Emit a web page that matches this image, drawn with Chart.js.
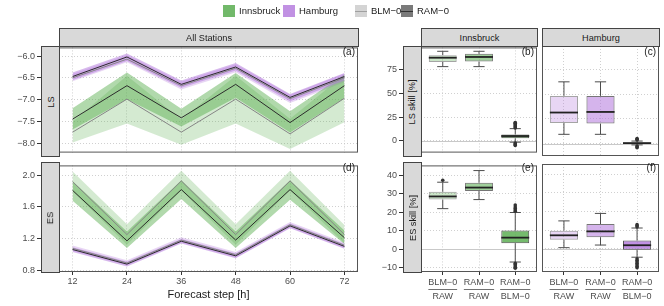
<!DOCTYPE html>
<html>
<head>
<meta charset="utf-8">
<script src="https://cdn.jsdelivr.net/npm/chart.js@4.4.0/dist/chart.umd.min.js"></script>
<style>
body { margin: 0; background: #fff; font-family: "Liberation Sans", Arial, sans-serif; }
#wrap { position: relative; width: 664px; height: 306px; overflow: hidden; background: #fff; }
canvas { position: absolute; z-index: 1; }
.strip { position: absolute; background: #d9d9d9; border: 1px solid #444; box-sizing: border-box; font-size: 9.2px; color: #1a1a1a; display: flex; align-items: center; justify-content: center; z-index: 2; }
.strip span { white-space: nowrap; }
.vstrip span { transform: rotate(-90deg); }
.tag { position: absolute; font-size: 10px; color: #1a1a1a; z-index: 2; text-align: right; width: 30px; }
.key { position: absolute; width: 12px; height: 12px; top: 5px; z-index: 2; }
.key i { position: absolute; left: 0; right: 0; top: 5.5px; height: 1px; }
.ltxt { position: absolute; top: 5px; line-height: 12px; font-size: 9.5px; color: #1a1a1a; z-index: 2; white-space: nowrap; }
.title { position: absolute; left: 59px; width: 299px; top: 288px; text-align: center; font-size: 11px; color: #1a1a1a; z-index: 2; }
</style>
</head>
<body>
<div id="wrap">
  <!-- legend -->
  <div class="key" style="left:223px;background:rgb(114,185,106)"></div>
  <div class="ltxt" style="left:239px">Innsbruck</div>
  <div class="key" style="left:283px;background:rgb(193,145,227)"></div>
  <div class="ltxt" style="left:299px">Hamburg</div>
  <div class="key" style="left:355px;background:#d4d4d4"><i style="background:#a0a0a0"></i></div>
  <div class="ltxt" style="left:371px">BLM−0</div>
  <div class="key" style="left:401px;background:#7a7a7a"><i style="background:#333"></i></div>
  <div class="ltxt" style="left:417px">RAM−0</div>

  <!-- strips -->
  <div class="strip" style="left:59px;top:28px;width:300px;height:19px"><span>All Stations</span></div>
  <div class="strip vstrip" style="left:41px;top:46px;width:19px;height:111px"><span>LS</span></div>
  <div class="strip vstrip" style="left:41px;top:162px;width:19px;height:111px"><span>ES</span></div>
  <div class="strip" style="left:421px;top:28px;width:117px;height:19px"><span>Innsbruck</span></div>
  <div class="strip" style="left:542px;top:28px;width:118px;height:19px"><span>Hamburg</span></div>
  <div class="strip vstrip" style="left:403px;top:46px;width:19px;height:111px"><span>LS skill [%]</span></div>
  <div class="strip vstrip" style="left:403px;top:162px;width:19px;height:111px"><span>ES skill [%]</span></div>

  <!-- panel tags -->
  <div class="tag" style="left:325px;top:46px">(a)</div>
  <div class="tag" style="left:325px;top:162px">(d)</div>
  <div class="tag" style="left:504px;top:46px">(b)</div>
  <div class="tag" style="left:504px;top:162px">(e)</div>
  <div class="tag" style="left:626px;top:46px">(c)</div>
  <div class="tag" style="left:626px;top:162px">(f)</div>

  <div class="title">Forecast step [h]</div>
</div>
<script>
// forecast steps (h)
const steps = [12, 24, 36, 48, 60, 72];

// LS, Innsbruck
const lsInnRam   = [-7.45, -6.68, -7.42, -6.65, -7.53, -6.68];
const lsInnRamLo = [-7.69, -6.99, -7.62, -6.96, -7.76, -6.97];
const lsInnRamHi = [-7.20, -6.38, -7.21, -6.39, -7.27, -6.42];
const lsInnBlm   = [-7.75, -6.99, -7.75, -6.99, -7.79, -6.97];
const lsInnBlmLo = [-7.99, -7.55, -8.04, -7.55, -8.14, -7.52];
const lsInnBlmHi = [-7.51, -6.45, -7.46, -6.45, -7.44, -6.43];
// LS, Hamburg
const lsHamRam   = [-6.47, -6.02, -6.65, -6.25, -6.95, -6.47];
const lsHamRamLo = [-6.55, -6.11, -6.73, -6.33, -7.04, -6.56];
const lsHamRamHi = [-6.38, -5.94, -6.56, -6.16, -6.87, -6.39];
const lsHamBlm   = [-6.50, -6.07, -6.68, -6.28, -6.98, -6.50];
const lsHamBlmLo = [-6.58, -6.14, -6.77, -6.37, -7.08, -6.60];
const lsHamBlmHi = [-6.41, -5.98, -6.59, -6.19, -6.89, -6.40];

// ES, Innsbruck
const esInnRam   = [1.81, 1.17, 1.82, 1.18, 1.82, 1.21];
const esInnRamLo = [1.68, 1.08, 1.70, 1.08, 1.69, 1.13];
const esInnRamHi = [1.93, 1.29, 1.94, 1.29, 1.94, 1.30];
const esInnBlm   = [1.92, 1.25, 1.93, 1.25, 1.93, 1.25];
const esInnBlmLo = [1.80, 1.12, 1.81, 1.12, 1.81, 1.14];
const esInnBlmHi = [2.05, 1.38, 2.06, 1.38, 2.06, 1.37];
// ES, Hamburg
const esHamRam   = [1.06, 0.875, 1.165, 0.98, 1.36, 1.10];
const esHamRamLo = [1.03, 0.845, 1.135, 0.95, 1.33, 1.07];
const esHamRamHi = [1.09, 0.905, 1.195, 1.01, 1.39, 1.13];
const esHamBlm   = [1.075, 0.89, 1.18, 0.995, 1.375, 1.115];
const esHamBlmLo = [1.04, 0.86, 1.145, 0.96, 1.34, 1.08];
const esHamBlmHi = [1.11, 0.925, 1.215, 1.03, 1.41, 1.15];

// skill boxplots: categories are "model / reference"
const boxCats = [['BLM−0', 'RAW'], ['RAM−0', 'RAW'], ['RAM−0', 'BLM−0']];

const lsInnQ1 = [83.3, 83.7, 2.6];
const lsInnMed = [87.7, 88.5, 5.0];
const lsInnQ3 = [90.4, 91.8, 6.7];
const lsInnLo = [78.3, 78.3, -1.5];
const lsInnHi = [94.5, 94.5, 12.8];
const lsInnOut = [[], [], [13.6, 14.6, 15.6, 16.6, 17.6, 18.6, 19.3, -2.4, -3.3, -4.2, -5.0]];

const lsHamQ1 = [20.9, 20.2, 0.0];
const lsHamMed = [31.4, 32.0, 0.5];
const lsHamQ3 = [48.2, 48.2, 1.2];
const lsHamLo = [9.4, 9.4, -1.3];
const lsHamHi = [62.4, 62.4, 2.6];
const lsHamOut = [[], [], [3.6, 4.4, 5.1, -2.4, -3.3, -4.1]];

const esInnQ1 = [26.9, 31.6, 3.3];
const esInnMed = [28.6, 33.4, 6.3];
const esInnQ3 = [31.1, 36.0, 10.1];
const esInnLo = [22.0, 26.9, -6.9];
const esInnHi = [36.3, 42.6, 19.9];
const esInnOut = [[37.4], [], [20.6, 21.3, 22.1, 22.9, 24.0, -7.6, -8.3, -9.0, -9.7, -10.3]];

const esHamQ1 = [4.9, 6.3, -0.4];
const esHamMed = [7.3, 9.4, 2.0];
const esHamQ3 = [9.8, 13.3, 4.5];
const esHamLo = [0.7, 2.1, -4.4];
const esHamHi = [15.0, 19.0, 11.2];
const esHamOut = [[], [], [11.8, 12.4, 13.0, -5.2, -6.0, -6.8, -7.6, -8.4, -9.2, -10.0]];

// axis ticks
const lsTicks = [-8, -7.5, -7, -6.5, -6];
const esTicks = [0.8, 1.2, 1.6, 2.0];
const lsSkillTicks = [0, 25, 50, 75];
const esSkillTicks = [-10, 0, 10, 20, 30, 40];

const GREEN = [82, 170, 72];
const PURPLE = [178, 118, 220];
const rgba = (c, a) => `rgba(${c[0]},${c[1]},${c[2]},${a})`;
const minus = s => String(s).replace('-', '\u2212');

Chart.defaults.font.family = "'Liberation Sans', Arial, sans-serif";
Chart.defaults.font.size = 9;
Chart.defaults.color = '#4d4d4d';
Chart.defaults.animation = false;
Chart.defaults.plugins.legend.display = false;
Chart.defaults.plugins.tooltip.enabled = false;

function mkCanvas(left, top, w, h) {
    const c = document.createElement('canvas');
    c.width = w; c.height = h;
    c.style.left = left + 'px'; c.style.top = top + 'px';
    c.style.width = w + 'px'; c.style.height = h + 'px';
    document.getElementById('wrap').appendChild(c);
    return c.getContext('2d');
}

// grey frame round the plot area
const panelBorder = {
    id: 'panelBorder',
    afterDraw(chart) {
        const { ctx, chartArea: a } = chart;
        ctx.save();
        ctx.strokeStyle = '#555';
        ctx.lineWidth = 1;
        ctx.strokeRect(a.left + 0.5, a.top + 0.5, a.right - a.left - 1, a.bottom - a.top - 1);
        ctx.restore();
    }
};

function yAxis(min, max, ticks, fmt, showLabels, width) {
    return {
        type: 'linear', min, max,
        afterBuildTicks: s => { s.ticks = ticks.map(v => ({ value: v })); },
        afterFit: s => { s.width = width; },
        ticks: { display: showLabels, padding: 2, callback: fmt },
        grid: { color: '#c4c4c4', lineWidth: 0.8, drawTicks: showLabels, tickLength: 22, tickColor: '#333', tickWidth: 1 },
        border: { display: false, dash: [1, 2] }
    };
}

function lineChart(ctx, yMin, yMax, yTicks, yFmt, showX, xH, padTop, series) {
    const pts = arr => steps.map((x, i) => ({ x, y: arr[i] }));
    const ds = [];
    series.forEach(s => {
        ds.push({ data: pts(s.ram), borderColor: '#2b2b2b', borderWidth: 1 });
        ds.push({ data: pts(s.blm), borderColor: '#858585', borderWidth: 1 });
    });
    const band = (hi, lo, col) => {
        const i = ds.length;
        ds.push({ data: pts(hi), fill: i + 1, backgroundColor: col, borderColor: 'rgba(0,0,0,0)', borderWidth: 0 });
        ds.push({ data: pts(lo), fill: false, borderColor: 'rgba(0,0,0,0)', borderWidth: 0 });
    };
    series.forEach(s => band(s.ramHi, s.ramLo, rgba(s.color, s.ramA)));
    series.forEach(s => band(s.blmHi, s.blmLo, rgba(s.color, s.blmA)));

    return new Chart(ctx, {
        type: 'line',
        data: { datasets: ds },
        options: {
            responsive: false,
            devicePixelRatio: 1,
            layout: { padding: { top: padTop, right: 4, left: 0, bottom: 0 } },
            elements: { point: { radius: 0 }, line: { tension: 0 } },
            scales: {
                x: {
                    type: 'linear', min: 9, max: 75,
                    afterBuildTicks: s => { s.ticks = steps.map(v => ({ value: v })); },
                    afterFit: s => { s.height = xH; },
                    ticks: { display: showX, padding: 1, maxRotation: 0, autoSkip: false },
                    grid: { color: '#c4c4c4', lineWidth: 0.8, drawTicks: showX, tickLength: 3, tickColor: '#333', tickWidth: 1 },
                    border: { display: false, dash: [1, 2] }
                },
                y: yAxis(yMin, yMax, yTicks, yFmt, true, 59)
            }
        },
        plugins: [panelBorder]
    });
}

function boxExtras(b, showX) {
    return {
        id: 'boxExtras',
        beforeDatasetsDraw(chart) {
            const { ctx, chartArea: a, scales: { y } } = chart;
            const y0 = Math.round(y.getPixelForValue(0)) + 0.5;
            ctx.save();
            ctx.strokeStyle = '#c9c9c9';
            ctx.lineWidth = 1;
            ctx.beginPath(); ctx.moveTo(a.left, y0); ctx.lineTo(a.right, y0); ctx.stroke();
            ctx.restore();
        },
        afterDatasetsDraw(chart) {
            const { ctx, scales: { x, y } } = chart;
            const bars = chart.getDatasetMeta(0).data;
            ctx.save();
            b.q1.forEach((q1, i) => {
                const cx = x.getPixelForValue(i + 1);
                const w = bars[i].width;
                const cw = w * 0.2;
                const yHi = y.getPixelForValue(b.hi[i]);
                const yLo = y.getPixelForValue(b.lo[i]);
                ctx.strokeStyle = '#4d4d4d';
                ctx.lineWidth = 1;
                ctx.beginPath();
                ctx.moveTo(cx, y.getPixelForValue(b.q3[i])); ctx.lineTo(cx, yHi);
                ctx.moveTo(cx, y.getPixelForValue(q1)); ctx.lineTo(cx, yLo);
                ctx.moveTo(cx - cw, yHi); ctx.lineTo(cx + cw, yHi);
                ctx.moveTo(cx - cw, yLo); ctx.lineTo(cx + cw, yLo);
                ctx.stroke();
                // median
                const ym = y.getPixelForValue(b.med[i]);
                ctx.strokeStyle = '#222';
                ctx.lineWidth = 1.8;
                ctx.beginPath(); ctx.moveTo(cx - w / 2, ym); ctx.lineTo(cx + w / 2, ym); ctx.stroke();
                // outliers
                ctx.fillStyle = '#333';
                b.out[i].forEach(v => {
                    ctx.beginPath();
                    ctx.arc(cx, y.getPixelForValue(v), 1.8, 0, Math.PI * 2);
                    ctx.fill();
                });
            });
            ctx.restore();
        },
        afterDraw(chart) {
            if (!showX) return;
            // fraction rule between "model" and "reference"
            const { ctx, chartArea: a, scales: { x } } = chart;
            ctx.save();
            ctx.font = "9px 'Liberation Sans', Arial, sans-serif";
            ctx.strokeStyle = '#4d4d4d';
            ctx.lineWidth = 0.8;
            const yr = a.bottom + 17.5;
            boxCats.forEach((c, i) => {
                const cx = x.getPixelForValue(i + 1);
                const w = Math.max(ctx.measureText(c[0]).width, ctx.measureText(c[1]).width);
                ctx.beginPath(); ctx.moveTo(cx - w / 2, yr); ctx.lineTo(cx + w / 2, yr); ctx.stroke();
            });
            ctx.restore();
        }
    };
}

function boxChart(ctx, b, color, yMin, yMax, yTicks, showY, yW, showX, xH, padR) {
    const alphas = [0.3, 0.55, 0.8];
    const borders = ['#a5a5a5', '#767676', '#555555'];
    return new Chart(ctx, {
        type: 'bar',
        data: {
            datasets: [{
                data: boxCats.map((c, i) => ({ x: i + 1, y: [b.q1[i], b.q3[i]] })),
                backgroundColor: alphas.map(a => rgba(color, a)),
                borderColor: borders,
                borderWidth: 1,
                borderSkipped: false,
                barPercentage: 0.77,
                categoryPercentage: 1
            }]
        },
        options: {
            responsive: false,
            devicePixelRatio: 1,
            layout: { padding: { top: 6, right: padR, left: 0, bottom: 0 } },
            scales: {
                x: {
                    type: 'linear', min: 0.4, max: 3.6, offset: false,
                    afterBuildTicks: s => { s.ticks = boxCats.map((c, i) => ({ value: i + 1 })); },
                    afterFit: s => { s.height = xH; },
                    ticks: { display: showX, padding: 1, maxRotation: 0, autoSkip: false,
                             font: { lineHeight: 1.5 }, callback: v => boxCats[v - 1] },
                    grid: { offset: false, color: '#c4c4c4', lineWidth: 0.8, drawTicks: showX, tickLength: 3, tickColor: '#333', tickWidth: 1 },
                    border: { display: false, dash: [1, 2] }
                },
                y: yAxis(yMin, yMax, yTicks, v => minus(v), showY, yW)
            }
        },
        plugins: [boxExtras(b, showX), panelBorder]
    });
}

// (a) LS over forecast steps
lineChart(mkCanvas(0, 40, 362, 120), -8.22, -5.80, lsTicks, v => minus(v.toFixed(1)), false, 4, 6, [
    { ram: lsHamRam, ramLo: lsHamRamLo, ramHi: lsHamRamHi, blm: lsHamBlm, blmLo: lsHamBlmLo, blmHi: lsHamBlmHi, color: PURPLE, ramA: 0.5, blmA: 0.3 },
    { ram: lsInnRam, ramLo: lsInnRamLo, ramHi: lsInnRamHi, blm: lsInnBlm, blmLo: lsInnBlmLo, blmHi: lsInnBlmHi, color: GREEN, ramA: 0.45, blmA: 0.25 }
]);

// (d) ES over forecast steps
lineChart(mkCanvas(0, 158, 362, 148), 0.775, 2.127, esTicks, v => v.toFixed(1), true, 34, 4, [
    { ram: esHamRam, ramLo: esHamRamLo, ramHi: esHamRamHi, blm: esHamBlm, blmLo: esHamBlmLo, blmHi: esHamBlmHi, color: PURPLE, ramA: 0.5, blmA: 0.3 },
    { ram: esInnRam, ramLo: esInnRamLo, ramHi: esInnRamHi, blm: esInnBlm, blmLo: esInnBlmLo, blmHi: esInnBlmHi, color: GREEN, ramA: 0.45, blmA: 0.25 }
]);

const lsInn = { q1: lsInnQ1, med: lsInnMed, q3: lsInnQ3, lo: lsInnLo, hi: lsInnHi, out: lsInnOut };
const lsHam = { q1: lsHamQ1, med: lsHamMed, q3: lsHamQ3, lo: lsHamLo, hi: lsHamHi, out: lsHamOut };
const esInn = { q1: esInnQ1, med: esInnMed, q3: esInnQ3, lo: esInnLo, hi: esInnHi, out: esInnOut };
const esHam = { q1: esHamQ1, med: esHamMed, q3: esHamQ3, lo: esHamLo, hi: esHamHi, out: esHamOut };

// (b), (c) LS skill
boxChart(mkCanvas(362, 40, 177, 120), lsInn, GREEN, -12.5, 98.6, lsSkillTicks, true, 59, false, 4, 2);
boxChart(mkCanvas(539, 40, 125, 120), lsHam, PURPLE, -12.5, 98.6, lsSkillTicks, false, 3, false, 4, 5);
// (e), (f) ES skill
boxChart(mkCanvas(362, 158, 177, 148), esInn, GREEN, -12.3, 45.4, esSkillTicks, true, 59, true, 34, 2);
boxChart(mkCanvas(539, 158, 125, 148), esHam, PURPLE, -12.3, 45.4, esSkillTicks, false, 3, true, 34, 5);
</script>
</body>
</html>
